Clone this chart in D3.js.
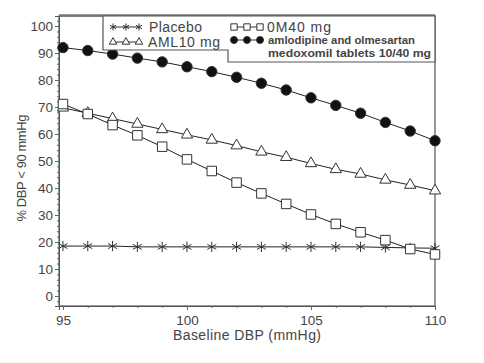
<!DOCTYPE html>
<html>
<head>
<meta charset="utf-8">
<script src="https://d3js.org/d3.v7.min.js"></script>
<style>
  body { margin: 0; background: #fff; }
  text { font-family: "Liberation Sans", Arial, sans-serif; fill: #444; }
</style>
</head>
<body>
<svg width="484" height="363"></svg>
<script>
const baseline = [95, 96, 97, 98, 99, 100, 101, 102, 103, 104, 105, 106, 107, 108, 109, 110];
const placebo = [18.5, 18.5, 18.5, 18.2, 18.2, 18.2, 18.2, 18.2, 18.2, 18.2, 18.2, 18.2, 18.2, 18, 17.8, 17.7];
const aml10 = [69.7, 67.7, 65.7, 63.7, 61.7, 59.7, 57.8, 55.7, 53.4, 51.4, 49.1, 46.9, 45.2, 43, 41.1, 39];
const om40 = [71.1, 67.4, 63.3, 59.5, 55.3, 50.6, 46.3, 42, 38, 34.1, 30.2, 26.7, 23.6, 20.7, 17.4, 15.4];
const combo = [92, 90.9, 89.6, 88.1, 86.7, 84.9, 83.1, 81, 78.8, 76.3, 73.4, 70.6, 67.7, 64.3, 61.1, 57.5];
const xTicks = [95, 100, 105, 110];
const yTicks = [0, 10, 20, 30, 40, 50, 60, 70, 80, 90, 100];

const svg = d3.select("svg");
const x = d3.scaleLinear().domain([94.84, 110]).range([59, 435]);
const y = d3.scaleLinear().domain([-3.7, 103.7]).range([306, 16]);

// frame
svg.append("rect")
    .attr("x", 59).attr("y", 16).attr("width", 376).attr("height", 290)
    .attr("fill", "none").attr("stroke", "#555").attr("stroke-width", 1.2);
svg.append("line")
    .attr("x1", 59).attr("x2", 435).attr("y1", 15.5).attr("y2", 15.5)
    .attr("stroke", "#777").attr("stroke-width", 2.5);

// axes
svg.append("g").attr("transform", "translate(0,306)")
    .call(d3.axisBottom(x).tickValues(xTicks).tickSize(4).tickPadding(5));
svg.append("g").attr("transform", "translate(0,306)")
    .call(d3.axisBottom(x).tickValues(d3.range(96, 110)).tickSize(2).tickFormat(""))
    .call(g => g.select(".domain").remove());
svg.append("g").attr("transform", "translate(59,0)")
    .call(d3.axisLeft(y).tickValues(yTicks).tickSize(4).tickPadding(2));
svg.append("g").attr("transform", "translate(59,0)")
    .call(d3.axisLeft(y).tickValues(d3.range(-2, 103, 2).filter(v => v % 10 !== 0)).tickSize(2).tickFormat(""))
    .call(g => g.select(".domain").remove());
svg.selectAll(".domain").attr("stroke", "#555");
svg.selectAll(".tick line").attr("stroke", "#666");
svg.selectAll(".tick text").style("font-size", "13.5px").attr("fill", "#444");

// axis titles
svg.append("text")
    .attr("x", 247).attr("y", 340).attr("text-anchor", "middle")
    .style("font-size", "14px").attr("textLength", 148).text("Baseline DBP (mmHg)");
svg.append("text")
    .attr("transform", "translate(26,168) rotate(-90)").attr("text-anchor", "middle")
    .style("font-size", "13px").attr("textLength", 107).text("% DBP < 90 mmHg");

const line = d3.line().x((d, i) => x(baseline[i])).y(d => y(d));
const series = [
  { name: "Placebo", values: placebo, sym: d3.symbolAsterisk, fill: "none", size: 75 },
  { name: "AML10 mg", values: aml10, sym: d3.symbolTriangle, fill: "#fff", size: 55 },
  { name: "OM40 mg", values: om40, sym: d3.symbolSquare, fill: "#fff", size: 90 },
  { name: "combo", values: combo, sym: d3.symbolCircle, fill: "#111", size: 85 }
];
series.forEach(s => {
  svg.append("path").datum(s.values).attr("d", line)
      .attr("fill", "none").attr("stroke", "#222").attr("stroke-width", 1);
  svg.append("g").selectAll("path").data(s.values).join("path")
      .attr("transform", (d, i) => `translate(${x(baseline[i])},${y(d)})`)
      .attr("d", d3.symbol(s.sym, s.size))
      .attr("fill", s.fill).attr("stroke", "#333").attr("stroke-width", 1);
});

// legend
svg.append("path")
    .attr("d", "M103,16 V50 H228 V62 H435 V16 Z")
    .attr("fill", "#fff").attr("stroke", "#555").attr("stroke-width", 1.2);
function legendItem(s, lx, ly) {
  svg.append("line").attr("x1", lx).attr("x2", lx + 26).attr("y1", ly).attr("y2", ly)
      .attr("stroke", "#333");
  [0, 13, 26].forEach(dx => svg.append("path")
      .attr("transform", `translate(${lx + dx},${ly})`)
      .attr("d", d3.symbol(s.sym, s.size * 0.45))
      .attr("fill", s.fill).attr("stroke", "#333"));
}
legendItem(series[0], 113, 27);
legendItem(series[1], 113, 42);
legendItem(series[2], 234, 27);
legendItem(series[3], 234, 40);
svg.append("text").attr("x", 149).attr("y", 32).style("font-size", "14px").attr("textLength", 53).text("Placebo");
svg.append("text").attr("x", 148).attr("y", 47).style("font-size", "14px").attr("textLength", 72).text("AML10 mg");
svg.append("text").attr("x", 267).attr("y", 32).style("font-size", "14px").attr("textLength", 64).text("0M40 mg");
svg.append("text").attr("x", 268).attr("y", 44).style("font-size", "11.5px").style("font-weight", "bold")
    .attr("fill", "#222").attr("textLength", 147).attr("lengthAdjust", "spacingAndGlyphs")
    .text("amlodipine and olmesartan");
svg.append("text").attr("x", 268).attr("y", 57).style("font-size", "11.5px").style("font-weight", "bold")
    .attr("fill", "#222").attr("textLength", 163).attr("lengthAdjust", "spacingAndGlyphs")
    .text("medoxomil tablets 10/40 mg");
</script>
</body>
</html>
